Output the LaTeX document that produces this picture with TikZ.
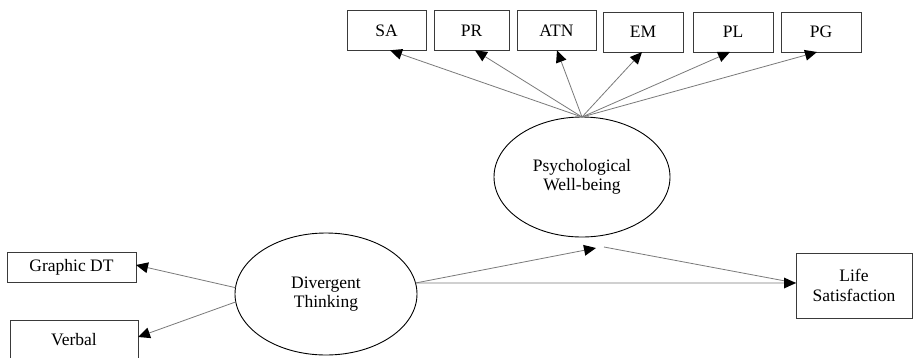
\documentclass[tikz,border=0pt]{standalone}
\usepackage{fontspec}
\setmainfont{Liberation Serif}
\usetikzlibrary{shapes.geometric,arrows.meta,calc}
\definecolor{linegray}{HTML}{7A7A7A}
\definecolor{boxgray}{HTML}{3A3A3A}
\begin{document}
\begin{tikzpicture}[x=1pt,y=-1pt,
  font=\fontsize{17.5}{19.5}\selectfont,
  boxnode/.style={draw=boxgray,line width=0.9pt,minimum height=40pt,inner sep=0pt,outer sep=0pt,align=center},
  latent/.style={ellipse,draw=black,line width=0.9pt,inner sep=0pt,outer sep=0pt,align=center},
  tipstyle/.tip={Triangle[length=12pt,width=11pt,line width=0pt,black,fill=black]},
  path/.style={draw=linegray,line width=0.8pt,-tipstyle},
  plainpath/.style={draw=linegray,line width=0.8pt}]
\clip (0,0) rectangle (913,357);
\fill[white] (0,0) rectangle (913,357);
% indicator boxes (top)
\node[boxnode,minimum width=79pt] (SA)  at (386.5,30.3) {SA};
\node[boxnode,minimum width=75pt] (PR)  at (471.5,30.3) {PR};
\node[boxnode,minimum width=79pt] (ATN) at (556.5,30.3) {ATN};
\node[boxnode,minimum width=80pt] (EM)  at (643,32) {EM};
\node[boxnode,minimum width=80pt] (PL)  at (733,32) {PL};
\node[boxnode,minimum width=80pt] (PG)  at (821,32) {PG};
% latent variables
\node[latent,minimum width=176pt,minimum height=120pt] (PWB) at (582,177) {Psychological\\Well-being};
\node[latent,minimum width=182pt,minimum height=122pt] (DT) at (326,294) {Divergent\\Thinking};
% left boxes
\node[boxnode,minimum width=129pt,minimum height=30pt] (GDT) at (71.5,267) {Graphic DT};
\node[boxnode,minimum width=128pt,minimum height=44pt] (VB) at (74,342) {};
\node at (74,340) (VBt) {Verbal};
% outcome
\node[boxnode,minimum width=116pt,minimum height=65pt] (LS) at (854,285.5) {Life\\Satisfaction};
% coordinates
\coordinate (modtip) at (596,248);
\coordinate (medstart) at (604,247);
\coordinate (LStip) at ($(LS.west)+(0,-2.5)$);
% paths from PWB to indicators
\draw[path] (PWB.north) -- ($(SA.south)+(3.5,0)$);
\draw[path] (PWB.north) -- ($(PR.south)+(3.5,0)$);
\draw[path] (PWB.north) -- ($(ATN.south)+(0.5,0)$);
\draw[path] (PWB.north) -- ($(EM.south)+(-1,0)$);
\draw[path] (PWB.north) -- ($(PL.south)+(-3,0)$);
\draw[path] (PWB.north) -- ($(PG.south)+(-4,0)$);
% paths from DT
\draw[path] (DT.176) -- ($(GDT.east)+(0,-2)$);
\draw[path] (DT.185) -- ($(VB.east)+(0,-5)$);
\draw[path] (DT.7) -- (modtip);
\draw[plainpath] (medstart) -- (LStip);
\draw[path] (DT.7) -- (LStip);
\end{tikzpicture}
\end{document}
